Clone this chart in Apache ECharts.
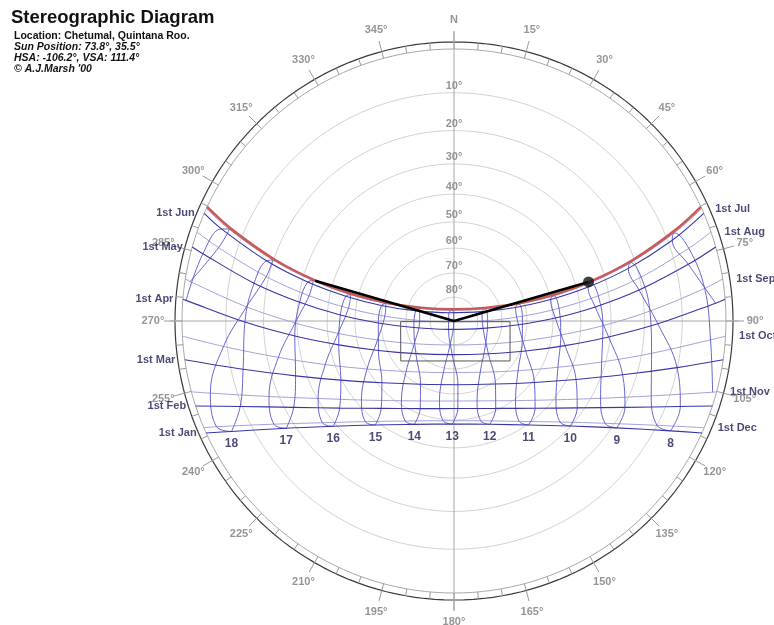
<!DOCTYPE html>
<html><head><meta charset="utf-8">
<script src="https://cdn.jsdelivr.net/npm/echarts@6/dist/echarts.min.js"></script>
<style>html,body{margin:0;padding:0;background:#fff}#c{width:774px;height:625px}</style>
</head><body><div id="c"></div>
<script>
// ---- data (azimuth deg clockwise from N, altitude deg) ----
const ALT_RINGS = [10, 20, 30, 40, 50, 60, 70, 80];
const AZ_TICKS = [0, 15, 30, 45, 60, 75, 90, 105, 120, 135, 150, 165, 180, 195, 210, 225, 240, 255, 270, 285, 300, 315, 330, 345];
const AZ_TICK_LABELS = ['N', '15°', '30°', '45°', '60°', '75°', '90°', '105°', '120°', '135°', '150°', '165°', '180°', '195°', '210°', '225°', '240°', '255°', '270°', '285°', '300°', '315°', '330°', '345°'];
const MONTHS = ['Jan', 'Feb', 'Mar', 'Apr', 'May', 'Jun', 'Jul', 'Aug', 'Sep', 'Oct', 'Nov', 'Dec'];
const HOURS = [7, 8, 9, 10, 11, 12, 13, 14, 15, 16, 17, 18, 19];
// sun position at each clock hour (7..19) on the 1st of each month; null = below horizon
const JAN_AZ  = [null, 116.9, 123.3, 132.1, 144.3, 160.9, 181.0, 201.0, 217.1, 228.9, 237.4, 243.6, null];
const JAN_ALT = [null, 6.5, 18.8, 30.1, 39.6, 46.2, 48.5, 45.7, 38.8, 29.0, 17.6, 5.2, null];
const FEB_AZ  = [null, 110.7, 116.8, 125.2, 137.1, 154.5, 177.5, 201.1, 219.8, 232.7, 241.7, 248.2, null];
const FEB_ALT = [null, 6.7, 19.7, 32.0, 42.7, 50.8, 54.3, 51.9, 44.6, 34.3, 22.4, 9.5, null];
const MAR_AZ  = [null, 101.8, 107.7, 115.6, 127.4, 146.7, 176.5, 207.9, 229.4, 242.4, 250.9, 257.1, null];
const MAR_ALT = [null, 10.1, 23.9, 37.1, 49.2, 59.0, 63.6, 60.5, 51.5, 39.7, 26.7, 13.0, null];
const APR_AZ  = [86.1, 90.8, 95.9, 102.5, 112.7, 133.6, 183.1, 229.4, 248.7, 258.3, 264.6, 269.7, 274.4];
const APR_ALT = [2.1, 16.3, 30.5, 44.6, 58.1, 70.2, 75.9, 69.1, 56.8, 43.2, 29.1, 14.9, 0.7];
const MAY_AZ  = [76.4, 80.5, 84.3, 88.3, 93.3, 104.2, 213.1, 260.7, 268.5, 273.0, 276.9, 280.7, 285.0];
const MAY_ALT = [6.9, 20.8, 34.9, 49.1, 63.3, 77.4, 85.8, 73.0, 58.9, 44.6, 30.5, 16.4, 2.6];
const JUN_AZ  = [69.7, 73.2, 75.8, 77.5, 77.6, 71.5, 328.2, 285.1, 282.1, 282.9, 284.9, 287.8, 291.6];
const JUN_ALT = [8.9, 22.4, 36.1, 50.0, 63.9, 77.6, 85.9, 73.4, 59.5, 45.6, 31.8, 18.2, 4.8];
const JUL_AZ  = [68.2, 71.7, 74.3, 75.8, 75.4, 68.5, 351.5, 290.0, 284.5, 284.3, 286.0, 288.6, 292.2];
const JUL_ALT = [7.8, 21.2, 34.8, 48.5, 62.3, 75.9, 85.4, 74.6, 61.0, 47.2, 33.4, 19.8, 6.5];
const AUG_AZ  = [72.8, 76.8, 80.1, 83.1, 86.0, 89.3, 196.5, 270.8, 274.0, 276.9, 279.9, 283.3, 287.3];
const AUG_ALT = [5.8, 19.5, 33.4, 47.5, 61.7, 75.9, 89.6, 75.6, 61.4, 47.3, 33.2, 19.3, 5.6];
const SEP_AZ  = [82.6, 87.1, 91.8, 97.5, 106.4, 126.2, 189.4, 240.3, 256.1, 263.9, 269.3, 273.9, 278.5];
const SEP_ALT = [4.2, 18.4, 32.6, 46.8, 60.7, 73.6, 79.8, 70.9, 57.7, 43.6, 29.4, 15.2, 1.1];
const OCT_AZ  = [94.2, 99.3, 105.5, 114.0, 127.8, 152.9, 191.7, 223.5, 241.1, 251.3, 258.3, 263.7, null];
const OCT_ALT = [3.2, 17.3, 31.2, 44.6, 56.8, 66.1, 68.1, 61.3, 49.9, 36.9, 23.2, 9.1, null];
const NOV_AZ  = [105.4, 110.8, 117.8, 127.7, 142.3, 163.9, 190.3, 213.4, 229.5, 240.3, 247.8, 253.5, null];
const NOV_ALT = [0.8, 14.4, 27.3, 39.3, 49.4, 56.0, 56.7, 51.3, 41.8, 30.2, 17.4, 3.9, null];
const DEC_AZ  = [null, 117.2, 124.1, 133.6, 147.0, 165.0, 186.2, 206.0, 221.4, 232.3, 240.2, 246.0, null];
const DEC_ALT = [null, 10.0, 22.3, 33.4, 42.5, 48.4, 49.5, 45.5, 37.5, 27.1, 15.3, 2.6, null];
const RISE_AZ = [114.3, 108.2, 98.2, 85.4, 74.2, 66.7, 65.6, 70.9, 81.1, 93.2, 105.1, 113.1];
const SET_AZ  = [245.7, 251.8, 261.8, 274.6, 285.8, 293.3, 294.4, 289.1, 278.9, 266.8, 254.9, 246.9];
// current day path (solstice)
const DAY_AZ  = [65.2, 67.65, 71.19, 73.75, 75.20, 74.75, 67.98, 0, 292.02, 285.25, 284.80, 286.25, 288.81, 292.35, 294.8];
const DAY_ALT = [0, 7.25, 20.57, 34.14, 47.86, 61.61, 75.16, 85.07, 75.16, 61.61, 47.86, 34.14, 20.57, 7.25, 0];
const SUN = [73.8, 35.5];
const MIRROR = [286.2, 34.0];
const BOX_AZ  = [269.3, 90.7, 125.5, 233.1, 269.3];
const BOX_ALT = [67.8, 66.7, 61.6, 62.5, 67.8];

// ---- layout ----
const CX = 454, CY = 321, RH = 272, RP = 310;
const RMAX = RP / RH;
const ringR = px => px / RH;
const P = (az, alt) => [Math.tan((90 - alt) * Math.PI / 360), az];
const MON_AZ = [JAN_AZ, FEB_AZ, MAR_AZ, APR_AZ, MAY_AZ, JUN_AZ, JUL_AZ, AUG_AZ, SEP_AZ, OCT_AZ, NOV_AZ, DEC_AZ];
const MON_ALT = [JAN_ALT, FEB_ALT, MAR_ALT, APR_ALT, MAY_ALT, JUN_ALT, JUL_ALT, AUG_ALT, SEP_ALT, OCT_ALT, NOV_ALT, DEC_ALT];
const FONT = 'Liberation Sans, Arial, sans-serif';

function line(data, color, width, smooth, z) {
  return { type: 'line', coordinateSystem: 'polar', data: data, symbol: 'none', smooth: smooth || false,
    silent: true, z: z || 2, lineStyle: { color: color, width: width }, connectNulls: false };
}
function circle(r) { const d = []; for (let t = 0; t <= 360; t += 2) d.push([r, t]); return d; }

const series = [];
ALT_RINGS.forEach(a => series.push(line(circle(P(0, a)[0]), '#d2d2d2', 1)));
series.push(line(circle(1), '#a8a8a8', 1));
series.push(line(circle(ringR(279)), '#3a3a3a', 1.2));
// ticks
const tickData = [];
for (let t = 0; t < 360; t += 5) {
  const outer = (t % 15 === 0) ? ringR(290) : ringR(279);
  tickData.push([1, t], [outer, t], ['-', '-']);
}
series.push(line(tickData, '#999', 1));
series.push(line([[ringR(289), 0], [ringR(289), 180]], '#aaa', 1));
series.push(line([[ringR(284), 90], [ringR(284), 270]], '#aaa', 1));

// date lines (1st of month): Jan-Jun dark, Jul-Dec light
for (let m = 11; m >= 0; m--) {
  const d = [P(RISE_AZ[m], 0)];
  for (let i = 0; i < HOURS.length; i++) if (MON_ALT[m][i] !== null) d.push(P(MON_AZ[m][i], MON_ALT[m][i]));
  d.push(P(SET_AZ[m], 0));
  series.push(m < 6 ? line(d, '#3737a8', 1.1, 0.35, 4) : line(d, '#a3a3d8', 1, 0.35, 3));
}
// hour lines
for (let i = 0; i < HOURS.length; i++) {
  const d = [];
  const order = [0, 1, 2, 3, 4, 5, 6, 7, 8, 9, 10, 11];
  let closed = true;
  order.forEach(m => { if (MON_ALT[m][i] === null) closed = false; });
  if (closed) {
    order.concat([0]).forEach(m => d.push(P(MON_AZ[m][i], MON_ALT[m][i])));
  } else {
    order.forEach(m => { if (MON_ALT[m][i] !== null) d.push(P(MON_AZ[m][i], MON_ALT[m][i])); });
  }
  series.push(line(d, '#5555cc', 0.9, 0.4, 3));
}
// current day path
series.push(line(DAY_AZ.map((a, i) => P(a, DAY_ALT[i])), '#c85a58', 2.6, 0.35, 5));
// shading box
series.push(line(BOX_AZ.map((a, i) => P(a, BOX_ALT[i])), '#555', 1, false, 4));
// black V
series.push(line([P(MIRROR[0], MIRROR[1]), [0, 0], P(SUN[0], SUN[1])], '#000', 2.6, false, 6));
series.push({ type: 'scatter', coordinateSystem: 'polar', data: [P(SUN[0], SUN[1])], symbolSize: 11, z: 7,
  itemStyle: { color: '#111' }, silent: true });

function labels(items, pos, dist, style, z) {
  return { type: 'scatter', coordinateSystem: 'polar', symbolSize: 1, z: z || 8, silent: true,
    itemStyle: { color: 'rgba(0,0,0,0)' }, data: items,
    label: Object.assign({ show: true, position: pos, distance: dist, formatter: '{b}', fontFamily: FONT }, style) };
}
const grey = { color: '#7a7a7a', fontSize: 11, fontWeight: 'bold' };
series.push(labels(AZ_TICKS.map((t, i) => ({ name: AZ_TICK_LABELS[i], value: [ringR(301), t] })), 'inside', 0, grey));
series.push(labels(ALT_RINGS.map(a => ({ name: a + '°', value: P(0, a) })), 'top', 1, grey));
const navy = { color: '#1b1b52', fontSize: 11, fontWeight: 'bold' };
series.push(labels(MONTHS.slice(0, 6).map((mn, m) => ({ name: '1st ' + mn, value: P(SET_AZ[m], 0) })), 'left', 9, navy, 9));
series.push(labels(MONTHS.slice(6).map((mn, k) => ({ name: '1st ' + mn, value: P(RISE_AZ[k + 6], 0) })), 'right', 13, navy, 9));
const hourLab = [];
for (let i = 0; i < HOURS.length; i++) if (JAN_ALT[i] !== null) hourLab.push({ name: String(HOURS[i]), value: P(JAN_AZ[i], JAN_ALT[i]) });
series.push(labels(hourLab, 'bottom', 6, Object.assign({}, navy, { fontSize: 12 }), 9));

const chart = echarts.init(document.getElementById('c'), null, { renderer: 'canvas', width: 774, height: 625 });
chart.setOption({
  animation: false,
  backgroundColor: '#fff',
  polar: { center: [CX, CY], radius: RP },
  angleAxis: { type: 'value', min: 0, max: 360, startAngle: 90, clockwise: true, show: false },
  radiusAxis: { type: 'value', min: 0, max: RMAX, show: false },
  graphic: [
    { type: 'text', left: 11, top: 8, style: { text: 'Stereographic Diagram', font: 'bold 18.5px ' + FONT, fill: '#111' } },
    { type: 'text', left: 14, top: 31, style: { text: 'Location: Chetumal, Quintana Roo.', font: 'bold 10.5px ' + FONT, fill: '#111' } },
    { type: 'text', left: 14, top: 42, style: { text: 'Sun Position: 73.8°, 35.5°', font: 'italic bold 10.5px ' + FONT, fill: '#111' } },
    { type: 'text', left: 14, top: 53, style: { text: 'HSA: -106.2°, VSA: 111.4°', font: 'italic bold 10.5px ' + FONT, fill: '#111' } },
    { type: 'text', left: 14, top: 64, style: { text: '© A.J.Marsh \'00', font: 'italic bold 10.5px ' + FONT, fill: '#111' } }
  ],
  series: series
});
</script></body></html>
